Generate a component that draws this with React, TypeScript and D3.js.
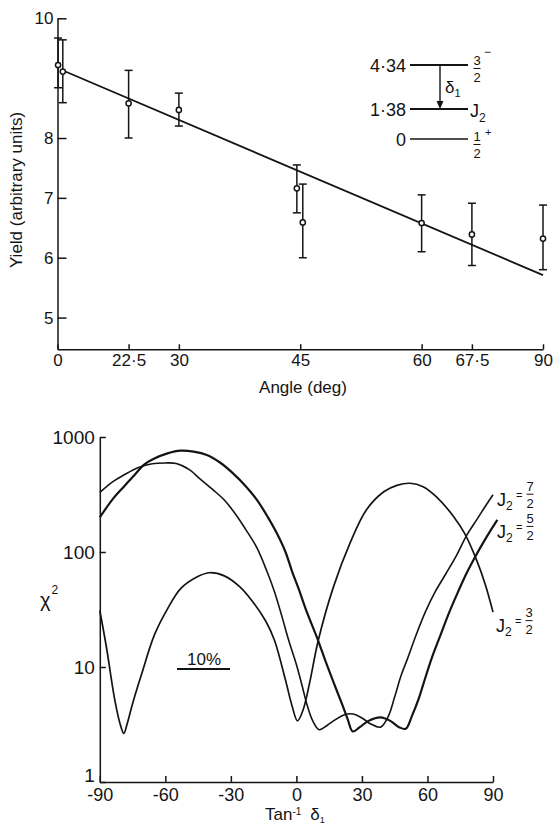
import * as d3 from "d3";
import React, { useRef, useEffect } from "react";

// ---- upper panel: yield against angle (deg) ----
const angles = [2, 6, 22.5, 30, 44.6, 45.3, 60, 67.5, 90];
const yields = [9.22, 9.11, 8.58, 8.47, 7.16, 6.59, 6.58, 6.39, 6.32];
const yieldLow = [8.84, 8.59, 8.0, 8.2, 6.75, 6.0, 6.1, 5.87, 5.8];
const yieldHigh = [9.67, 9.64, 9.13, 8.75, 7.55, 7.23, 7.05, 6.91, 6.88];
const fitAngles = [5, 90];
const fitYields = [9.14, 5.71];
const angleTicks = [0, 22.5, 30, 45, 60, 67.5, 90];
const angleLabels = ["0", "22·5", "30", "45", "60", "67·5", "90"];
const yieldTicks = [5, 6, 7, 8, 10];

// ---- level scheme inset ----
const levelEnergies = [4.34, 1.38, 0];
const levelLabels = ["4·34", "1·38", "0"];

// ---- lower panel: chi^2 against tan^-1 delta1 ----
const deltaTicks = [-90, -60, -30, 0, 30, 60, 90];
const chiTicks = [1, 10, 100, 1000];

// J2 = 3/2
const j32Delta = [-90, -87, -83, -80.5, -79, -77.5, -75, -71, -65, -59, -53, -46, -40, -33, -26, -20, -14, -10, -5, -2, 0.5, 3, 6, 10, 17, 24.5, 32, 40, 46, 52, 58, 64, 72, 77, 82.5, 86.5, 90];
const j32Chi = [31, 15, 5, 3.1, 2.65, 3.2, 4.8, 8.5, 19, 32, 48, 60, 66, 62, 50, 37, 25, 17, 7.7, 4.6, 3.4, 4.2, 7.2, 17, 50, 119, 232, 334, 380, 396, 370, 303, 203, 145, 85, 52, 30];
// J2 = 5/2 (heavy line)
const j52Delta = [-90, -84, -79, -74, -70, -65, -59, -53, -47, -41, -35, -29, -23, -18, -13, -9, -5, -2, 1, 4.8, 9.7, 13.5, 17.7, 21, 23.5, 25.8, 29, 33, 38.5, 43, 47, 50, 53, 56, 58, 62, 66, 70, 74, 78, 82, 86, 89, 92];
const j52Chi = [200, 290, 370, 470, 570, 650, 720, 760, 745, 697, 600, 483, 370, 283, 200, 146, 100, 68, 48, 30, 17.5, 11, 6.8, 4.7, 3.5, 2.75, 3.0, 3.4, 3.65, 3.4, 3.0, 2.9, 3.8, 5.3, 7.0, 12, 19, 30, 45, 66, 92, 125, 155, 190];
// J2 = 7/2
const j72Delta = [-90, -84, -79, -72, -66, -60, -55, -49, -44, -38, -33, -28, -23, -18, -13.5, -10, -6.5, -3.5, 0, 2.5, 5, 7.5, 10.4, 14, 18, 22, 26, 30, 34, 38.5, 42, 45, 48, 51, 54.8, 59, 63.5, 68.5, 73.5, 78, 82.5, 86.5, 90];
const j72Chi = [330, 410, 467, 545, 585, 595, 588, 520, 430, 345, 283, 215, 155, 108, 68, 45, 27, 17, 10.5, 7, 4.6, 3.4, 2.85, 3.1, 3.5, 3.85, 3.9, 3.6, 3.2, 3.0, 3.7, 5.5, 8.5, 12, 19, 30, 45, 65, 95, 140, 190, 250, 315];

const App = () => {
    const ref = useRef<HTMLDivElement>(null);

    useEffect(() => {
        const W = 553;
        const H = 826;
        const ink = "#141414";
        const font = "'Liberation Sans', 'DejaVu Sans', sans-serif";

        const svg = d3.create("svg")
            .attr("width", W)
            .attr("height", H)
            .attr("viewBox", `0 0 ${W} ${H}`)
            .style("position", "absolute")
            .style("left", "0px")
            .style("top", "0px")
            .style("background", "#fff")
            .attr("font-family", font)
            .attr("fill", ink);

        const styleAxis = (g: any, size: number) => {
            g.attr("font-family", font).attr("font-size", size);
            g.select(".domain").attr("stroke", ink).attr("stroke-width", 1.5);
            g.selectAll(".tick line").attr("stroke", ink).attr("stroke-width", 1.5);
            g.selectAll(".tick text").attr("fill", ink);
        };

        // fraction drawn as two stacked numerals
        const fraction = (g: any, cx: number, base: number, num: string, den: string, size: number) => {
            g.append("text").attr("x", cx).attr("y", base - 15).attr("text-anchor", "middle")
                .attr("font-size", size).text(num);
            g.append("line").attr("x1", cx - 3.5).attr("x2", cx + 3.5).attr("y1", base - 11.5).attr("y2", base - 11.5)
                .attr("stroke", ink).attr("stroke-width", 1);
            g.append("text").attr("x", cx).attr("y", base + 2).attr("text-anchor", "middle")
                .attr("font-size", size).text(den);
        };

        // ================= upper panel =================
        const sin2 = (a: number) => Math.sin((a * Math.PI) / 180) ** 2;
        const xs = d3.scaleLinear().domain([0, 1]).range([57.5, 543]);
        const xAng = (a: number) => xs(sin2(a));
        const ys = d3.scaleLinear().domain([4.47, 10]).range([349.3, 18.3]);

        svg.append("g")
            .attr("transform", `translate(0,${ys(4.47)})`)
            .call(d3.axisBottom(xs)
                .tickValues(angleTicks.map(sin2))
                .tickFormat((d: any, i: number) => angleLabels[i])
                .tickSizeInner(-5).tickSizeOuter(0).tickPadding(5))
            .call((g: any) => styleAxis(g, 17));

        svg.append("g")
            .attr("transform", `translate(${xs(0)},0)`)
            .call(d3.axisLeft(ys)
                .tickValues(yieldTicks)
                .tickFormat((d: any) => String(d))
                .tickSizeInner(-9).tickSizeOuter(0).tickPadding(4))
            .call((g: any) => styleAxis(g, 17));

        // fitted straight line (linear in sin^2)
        const fit = fitAngles.map((a, i) => [a, fitYields[i]] as [number, number]);
        svg.append("path")
            .datum(fit)
            .attr("fill", "none")
            .attr("stroke", ink)
            .attr("stroke-width", 1.8)
            .attr("d", d3.line<[number, number]>().x(d => xAng(d[0])).y(d => ys(d[1])));

        const pts = angles.map((a, i) => ({ a, v: yields[i], lo: yieldLow[i], hi: yieldHigh[i] }));
        const pg = svg.append("g").attr("stroke", ink).attr("stroke-width", 1.5);
        pg.selectAll("line.bar").data(pts).join("line").attr("class", "bar")
            .attr("x1", d => xAng(d.a)).attr("x2", d => xAng(d.a))
            .attr("y1", d => ys(d.lo)).attr("y2", d => ys(d.hi));
        pg.selectAll("line.capLo").data(pts).join("line").attr("class", "capLo")
            .attr("x1", d => xAng(d.a) - 4).attr("x2", d => xAng(d.a) + 4)
            .attr("y1", d => ys(d.lo)).attr("y2", d => ys(d.lo));
        pg.selectAll("line.capHi").data(pts).join("line").attr("class", "capHi")
            .attr("x1", d => xAng(d.a) - 4).attr("x2", d => xAng(d.a) + 4)
            .attr("y1", d => ys(d.hi)).attr("y2", d => ys(d.hi));
        pg.selectAll("circle").data(pts).join("circle")
            .attr("cx", d => xAng(d.a)).attr("cy", d => ys(d.v)).attr("r", 2.6)
            .attr("fill", "#fff");

        // axis titles
        svg.append("text")
            .attr("transform", `translate(22,190) rotate(-90)`)
            .attr("text-anchor", "middle")
            .attr("font-size", 17)
            .text("Yield (arbitrary units)");
        svg.append("text")
            .attr("x", 303).attr("y", 393)
            .attr("text-anchor", "middle")
            .attr("font-size", 17)
            .text("Angle (deg)");

        // ================= level scheme =================
        const ly = d3.scaleLinear().domain([0, 1.38, 4.34]).range([139, 109, 65]);
        const lx0 = 410, lx1 = 468;
        const lv = svg.append("g");
        levelEnergies.forEach((e, i) => {
            lv.append("line").attr("x1", lx0).attr("x2", lx1).attr("y1", ly(e)).attr("y2", ly(e))
                .attr("stroke", ink).attr("stroke-width", e === 0 ? 1.3 : 2.2);
            lv.append("text").attr("x", lx0 - 4).attr("y", ly(e) + 6.5).attr("text-anchor", "end")
                .attr("font-size", 18).text(levelLabels[i]);
        });
        // gamma transition 4.34 -> 1.38
        const ax = 440;
        lv.append("line").attr("x1", ax).attr("x2", ax).attr("y1", ly(4.34)).attr("y2", ly(1.38) - 6)
            .attr("stroke", ink).attr("stroke-width", 1.4);
        lv.append("path")
            .attr("d", `M${ax - 3.5},${ly(1.38) - 8}L${ax + 3.5},${ly(1.38) - 8}L${ax},${ly(1.38)}Z`)
            .attr("fill", ink);
        lv.append("text").attr("x", 445).attr("y", 93).attr("font-size", 17).text("δ")
            .append("tspan").attr("font-size", 11).attr("dy", 4).text("1");
        // spin labels
        fraction(lv, 477, ly(4.34) + 15, "3", "2", 13);
        lv.append("text").attr("x", 484).attr("y", ly(4.34) - 9).attr("font-size", 12).text("−");
        lv.append("text").attr("x", 470).attr("y", ly(1.38) + 8).attr("font-size", 18).text("J")
            .append("tspan").attr("font-size", 12).attr("dy", 5).text("2");
        fraction(lv, 477, ly(0) + 17, "1", "2", 13);
        lv.append("text").attr("x", 485).attr("y", ly(0) - 3).attr("font-size", 11).text("+");

        // ================= lower panel =================
        const xb = d3.scaleLinear().domain([-90, 90]).range([99.8, 493]);
        const yb = d3.scaleLog().domain([1, 1000]).range([782, 437]);

        svg.append("g")
            .attr("transform", `translate(0,${yb(1)})`)
            .call(d3.axisBottom(xb)
                .tickValues(deltaTicks)
                .tickFormat((d: any) => String(d))
                .tickSizeInner(-6).tickSizeOuter(0).tickPadding(6))
            .call((g: any) => styleAxis(g, 18));

        svg.append("g")
            .attr("transform", `translate(${xb(-90)},0)`)
            .call(d3.axisLeft(yb)
                .tickValues(chiTicks)
                .tickFormat((d: any) => String(d))
                .tickSizeInner(-6).tickSizeOuter(0).tickPadding(5))
            .call((g: any) => styleAxis(g, 19))
            .call((g: any) => g.selectAll(".tick text").filter((d: any) => d === 1).attr("dy", "-0.05em"));

        const curve = d3.line<[number, number]>()
            .x(d => xb(d[0]))
            .y(d => yb(d[1]))
            .curve(d3.curveCatmullRom.alpha(0.5));

        const series = [
            { xs: j32Delta, ys: j32Chi, w: 1.7, num: "3", den: "2" },
            { xs: j52Delta, ys: j52Chi, w: 2.2, num: "5", den: "2" },
            { xs: j72Delta, ys: j72Chi, w: 1.6, num: "7", den: "2" },
        ];
        series.forEach(s => {
            const pts2 = s.xs.map((x, i) => [x, s.ys[i]] as [number, number]);
            svg.append("path")
                .datum(pts2)
                .attr("fill", "none")
                .attr("stroke", ink)
                .attr("stroke-width", s.w)
                .attr("stroke-linejoin", "round")
                .attr("d", curve);
        });

        // curve labels  J2 = n/2
        const jLabel = (x0: number, base: number, num: string, den: string) => {
            const g = svg.append("g");
            g.append("text").attr("x", x0).attr("y", base).attr("font-size", 18).text("J")
                .append("tspan").attr("font-size", 12).attr("dy", 4).text("2");
            g.append("text").attr("x", x0 + 19).attr("y", base - 7).attr("font-size", 11).text("=");
            fraction(g, x0 + 33, base, num, den, 13);
        };
        const lastOf = (a: number[]) => a[a.length - 1];
        jLabel(497, yb(lastOf(j72Chi)) + 11, "7", "2");
        jLabel(497, yb(lastOf(j52Chi)) + 18, "5", "2");
        jLabel(496, yb(lastOf(j32Chi)) + 20, "3", "2");

        // 10 % scale mark
        svg.append("text").attr("x", 187).attr("y", 665).attr("font-size", 17).text("10%");
        svg.append("line").attr("x1", 177).attr("x2", 230).attr("y1", 669).attr("y2", 669)
            .attr("stroke", ink).attr("stroke-width", 2);

        // axis titles
        svg.append("text").attr("x", 40).attr("y", 607).attr("font-size", 20).text("χ")
            .append("tspan").attr("font-size", 12).attr("dy", -13).attr("dx", 1).text("2");
        const t = svg.append("text").attr("x", 265).attr("y", 820).attr("font-size", 17);
        t.append("tspan").text("Tan");
        t.append("tspan").attr("font-size", 10).attr("dy", -5).text("-1");
        t.append("tspan").attr("dx", 9).attr("dy", 5).text("δ");
        t.append("tspan").attr("font-size", 9).attr("dy", 3).text("1");

        if (ref.current) {
            ref.current.innerHTML = "";
            ref.current.appendChild(svg.node() as SVGSVGElement);
        }
    }, []);

    return <div ref={ref}></div>;
};

export default App;
